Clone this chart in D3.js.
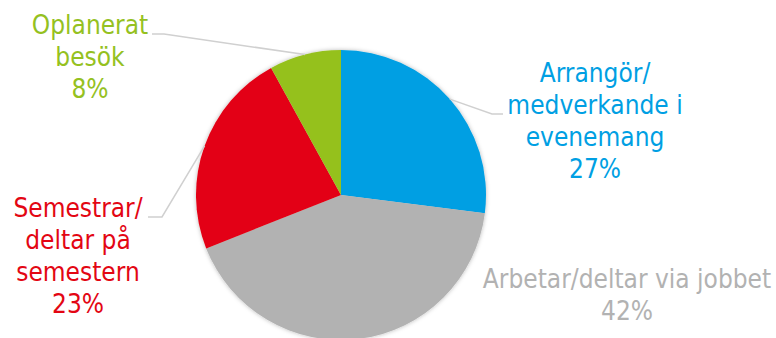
<!DOCTYPE html>
<html>
<head>
<meta charset="utf-8">
<script src="https://cdn.jsdelivr.net/npm/d3@7"></script>
<style>
  html, body { margin: 0; padding: 0; background: #fff; }
  svg { display: block; }
  text { font-family: "DejaVu Sans Condensed", "DejaVu Sans", sans-serif; font-size: 26px; }
</style>
</head>
<body>
<svg id="chart" width="776" height="338"></svg>
<script>
// Kategorier, andelar (%) och färger
const categories = ["Arrangör/ medverkande i evenemang", "Arbetar/deltar via jobbet", "Semestrar/ deltar på semestern", "Oplanerat besök"];
const labelLines = [
  ["Arrangör/", "medverkande i", "evenemang"],
  ["Arbetar/deltar via jobbet"],
  ["Semestrar/", "deltar på", "semestern"],
  ["Oplanerat", "besök"]
];
const values = [27, 42, 23, 8];
const colors = ["#009FE3", "#B2B2B2", "#E30613", "#95C11F"];
const textColors = ["#009FE3", "#B2B2B2", "#E30613", "#95C11F"];

// Etikettplacering: textens mittpunkt, första baslinjen, brytpunkt för ledarlinje
const labelLayout = [
  { x: 595, y: 82,  elbow: [492, 114], start: [503, 114] },
  { x: 627, y: 288, elbow: null, start: null },
  { x: 78,  y: 217, elbow: [162, 217], start: [148, 217] },
  { x: 90,  y: 34,  elbow: [164, 34], start: [152, 34] }
];

const svg = d3.select("#chart");
const cx = 341, cy = 195, radius = 145;
const lineH = 32;

const defs = svg.append("defs");
const shadow = defs.append("filter").attr("id", "pieShadow")
  .attr("x", "-10%").attr("y", "-10%").attr("width", "120%").attr("height", "120%");
shadow.append("feDropShadow").attr("dx", 0).attr("dy", 0)
  .attr("stdDeviation", 2.2).attr("flood-color", "#000").attr("flood-opacity", 0.28);

const pie = d3.pie().sort(null).value(d => d)(values);
const arc = d3.arc().innerRadius(0).outerRadius(radius);

const g = svg.append("g").attr("transform", `translate(${cx},${cy})`);

// Ledarlinjer till mitten av respektive tårtbits ytterkant
pie.forEach((p, i) => {
  const L = labelLayout[i];
  if (!L.elbow) return;
  const a = (p.startAngle + p.endAngle) / 2;
  const ex = cx + radius * Math.sin(a);
  const ey = cy - radius * Math.cos(a);
  svg.append("polyline")
    .attr("points", [L.start, L.elbow, [ex, ey]].map(q => q.join(",")).join(" "))
    .attr("fill", "none")
    .attr("stroke", "#D0D0D0")
    .attr("stroke-width", 1.5);
});

// Tårtbitar
const slices = g.append("g").attr("filter", "url(#pieShadow)");
slices.selectAll("path").data(pie).join("path")
  .attr("d", arc)
  .attr("fill", (d, i) => colors[i]);

// Etiketter
pie.forEach((p, i) => {
  const L = labelLayout[i];
  const lines = labelLines[i].concat([values[i] + "%"]);
  const t = svg.append("text")
    .attr("text-anchor", "middle")
    .attr("fill", textColors[i]);
  lines.forEach((s, k) => {
    t.append("tspan").attr("x", L.x).attr("y", L.y + k * lineH).text(s);
  });
});
</script>
</body>
</html>
